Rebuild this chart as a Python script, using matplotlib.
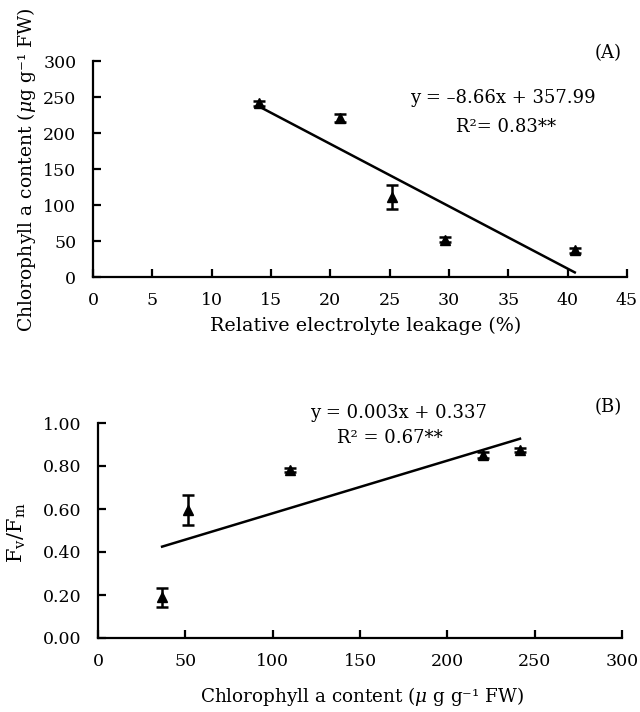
import matplotlib
matplotlib.use("Agg")
import matplotlib.pyplot as plt
import numpy as np

plt.rcParams['font.family'] = 'DejaVu Serif'
plt.rcParams['mathtext.fontset'] = 'dejavuserif'

# panel A: electrolyte leakage vs chlorophyll a
leak = [14.0, 20.8, 25.2, 29.7, 40.6]
chl_a = [241, 221, 111, 52, 37]
chl_a_err = [3, 6, 17, 4, 3]
fit_a = (-8.66, 357.99)

# panel B: chlorophyll a vs Fv/Fm
chl_b = [36.7, 51.5, 110, 220.6, 241.6]
fvfm = [0.19, 0.595, 0.78, 0.85, 0.873]
fvfm_err = [0.044, 0.068, 0.01, 0.015, 0.01]
fit_b = (0.00245, 0.335)

W, H = 640, 712
fig = plt.figure(figsize=(W / 100, H / 100), dpi=100)
ax1 = fig.add_axes([93 / W, 1 - 277 / H, 534 / W, 216 / H])
ax2 = fig.add_axes([98 / W, 1 - 638 / H, 524 / W, 215 / H])


def px(x, y):
    # pixel position -> figure fraction
    return x / W, 1 - y / H


def style(ax):
    for s in ['top', 'right']:
        ax.spines[s].set_visible(False)
    for s in ['left', 'bottom']:
        ax.spines[s].set_linewidth(1.6)
    ax.tick_params(direction='in', length=6, width=1.6, labelsize=12.5)
    ax.tick_params(axis='x', pad=11)
    ax.tick_params(axis='y', pad=12)


def draw(ax, x, y, err, fit):
    ax.errorbar(x, y, yerr=err, fmt='^', color='black', ms=7,
                elinewidth=1.8, capsize=4.5, capthick=1.8, clip_on=False)
    xs = np.array([min(x), max(x)])
    ax.plot(xs, fit[0] * xs + fit[1], color='black', lw=1.8)


draw(ax1, leak, chl_a, chl_a_err, fit_a)
style(ax1)
ax1.set_xlim(0, 45)
ax1.set_ylim(0, 300)
ax1.set_xticks(range(0, 46, 5))
ax1.set_yticks(range(0, 301, 50))

draw(ax2, chl_b, fvfm, fvfm_err, fit_b)
style(ax2)
ax2.set_xlim(0, 300)
ax2.set_ylim(0, 1.0)
ax2.set_xticks(range(0, 301, 50))
ticks_b = np.arange(0, 1.01, 0.2)
ax2.set_yticks(ticks_b)
ax2.set_yticklabels(['%.2f' % v for v in ticks_b])

# axis labels
fig.text(*px(366, 326), 'Relative electrolyte leakage (%)', fontsize=13.8,
         ha='center', va='center')
fig.text(*px(27, 170), 'Chlorophyll a content ($\\mu$g g\u207b\u00b9 FW)',
         fontsize=13.5, ha='center', va='center', rotation=90)
fig.text(*px(362, 697), 'Chlorophyll a content ($\\mu$ g g\u207b\u00b9 FW)',
         fontsize=13.2, ha='center', va='center')
fig.text(*px(17, 533), r'F$_\mathrm{v}$/F$_\mathrm{m}$', fontsize=15,
         ha='center', va='center', rotation=90)

# equations and panel tags
fig.text(*px(503, 98), 'y = \u20138.66x + 357.99', fontsize=13,
         ha='center', va='center')
fig.text(*px(506, 127), 'R\u00b2= 0.83**', fontsize=13,
         ha='center', va='center')
fig.text(*px(608, 53), '(A)', fontsize=13, ha='center', va='center')
fig.text(*px(398, 413), 'y = 0.003x + 0.337', fontsize=13,
         ha='center', va='center')
fig.text(*px(390, 438), 'R\u00b2 = 0.67**', fontsize=13,
         ha='center', va='center')
fig.text(*px(608, 407), '(B)', fontsize=13, ha='center', va='center')

fig.savefig('out.png', dpi=100)
